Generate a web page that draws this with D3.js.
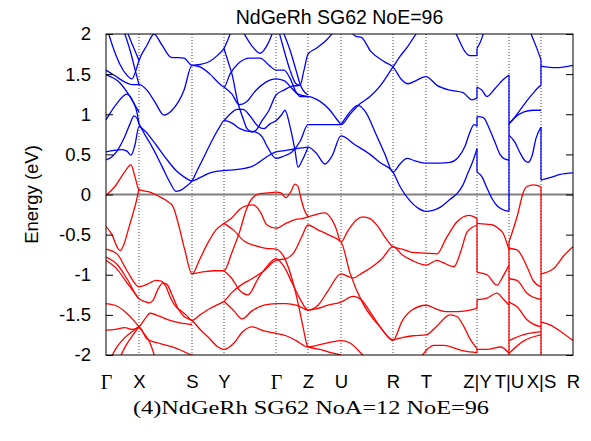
<!DOCTYPE html>
<html><head><meta charset="utf-8">
<script src="https://cdn.jsdelivr.net/npm/d3@7"></script>
<style>body{margin:0;background:#fff}</style>
</head><body><svg id="c" width="591" height="441"></svg>
<script>
// ---- data ----
const kLabels = ["Γ","X","S","Y","Γ","Z","U","R","T","Z|Y","T|U","X|S","R"];
const kTicks  = [0,33,86,118,170,202,235,287,320,371,403,435,467];
const yTicks  = [-2,-1.5,-1,-0.5,0,0.5,1,1.5,2];
const yTickLabels = ["-2","-1.5","-1","-0.5","0","0.5","1","1.5","2"];
const titleText = "NdGeRh SG62 NoE=96";
const captionText = "(4)NdGeRh SG62 NoA=12 NoE=96";
const yAxisLabel = "Energy (eV)";

const conductionBands = [
 [[0,0.43],[6,0.47],[12,0.56],[18,0.70],[24,0.88],[28,0.98],[31,0.95],[33,0.88],[40,0.78],[50,0.62],[60,0.45],[70,0.30],[78,0.22],[86,0.17],[94,0.21],[104,0.27],[112,0.29],[118,0.30],[130,0.31],[140,0.33],[146,0.35],[154,0.41],[162,0.48],[170,0.53],[180,0.55],[190,0.57],[196,0.58],[202,0.59],[210,0.52],[219,0.38],[226,0.48],[235,0.73],[249,0.62],[264,0.50],[274,0.40],[287,0.28],[294,0.10],[304,-0.08],[312,-0.17],[320,-0.21],[334,-0.16],[344,-0.06],[351,0.01],[357,0.12],[362,0.27],[367,0.42],[371,0.57]],
 [[0,0.53],[8,0.55],[16,0.56],[21,0.54],[25,0.49],[29,0.62],[33,0.85],[40,0.72],[48,0.55],[56,0.35],[64,0.15],[70,0.04],[76,0.06],[80,0.10],[86,0.17],[92,0.32],[100,0.52],[108,0.72],[114,0.85],[118,0.92],[126,0.89],[134,0.82],[141,0.79],[149,0.78],[156,0.72],[162,0.58],[170,0.45],[178,0.48],[186,0.53],[194,0.66],[202,0.87],[215,0.87],[225,0.87],[235,0.87],[244,1.0],[254,1.13],[264,1.22],[274,1.35],[287,1.59],[294,1.72],[302,1.85],[310,2.0],[314,2.08]],
 [[0,0.93],[10,1.12],[21,1.25],[27,1.16],[31,1.02],[33,0.88]],
 [[0,1.55],[9,1.48],[19,1.40],[26,1.37],[33,1.37],[41,1.30],[49,1.15],[58,0.99],[66,1.05],[78,1.30],[86,1.61],[94,1.59],[104,1.50],[112,1.40],[118,1.34],[124,1.50],[132,1.63],[144,1.70],[154,1.70],[164,1.60],[170,1.55],[178,1.55],[184,1.45],[190,1.28],[194,1.22],[202,1.22],[214,1.16],[224,1.05],[230,0.95],[235,0.87]],
 [[0,1.49],[14,1.39],[24,1.22],[31,1.07],[33,1.03]],
 [[2,2.03],[8,1.80],[14,1.62],[20,1.50],[26,1.44],[30,1.55],[33,1.67],[41,1.86],[48,2.0],[56,1.86],[65,1.71],[78,1.70],[86,1.61],[94,1.62],[104,1.66],[112,1.74],[118,1.82],[122,1.93],[125,2.03]],
 [[18,2.03],[24,1.80],[29,1.56],[33,1.37]],
 [[21,2.03],[26,1.88],[30,1.76],[33,1.67]],
 [[118,1.82],[122,1.66],[126,1.50],[132,1.14],[137,0.95],[141,0.82],[146,0.78],[150,0.80],[156,0.92],[163,1.05],[170,1.24],[178,1.30],[186,1.35],[194,1.36],[198,1.55],[202,1.75],[210,1.82],[220,1.92],[228,2.03]],
 [[118,0.92],[124,1.0],[131,1.06],[137,1.06],[144,0.98],[152,0.85],[158,0.82],[164,0.88],[170,0.92],[176,1.0],[179,1.05],[184,0.85],[189,0.55],[192,0.34],[196,0.42],[202,0.59]],
 [[118,1.34],[126,1.25],[133,1.12],[140,1.15],[150,1.30],[160,1.40],[170,1.44],[178,1.42],[186,1.32],[192,1.25],[202,1.22]],
 [[137,2.03],[146,1.85],[154,1.76],[162,1.88],[167,2.03]],
 [[173,2.03],[178,1.80],[184,1.55],[190,1.38],[194,1.36]],
 [[177,2.03],[184,1.80],[190,1.55],[194,1.38],[197,1.30],[202,1.24]],
 [[245,2.03],[250,1.97],[255,1.96],[265,1.78],[279,1.65],[287,1.59],[295,1.44],[302,1.38],[310,1.42],[320,1.47],[331,1.36],[344,1.30],[357,1.27],[366,1.18],[371,1.20]],
 [[349,2.03],[354,1.90],[359,1.78],[364,1.73],[371,1.73]],
 [[235,0.87],[244,1.03],[252,1.11],[260,1.02],[269,0.78],[279,0.50],[287,0.28],[294,0.38],[301,0.45],[309,0.42],[320,0.39],[334,0.39],[344,0.40],[352,0.46],[359,0.60],[364,0.78],[368,0.87],[371,0.85]],
 [[371,1.82],[375,1.92],[378,2.03]],
 [[371,1.34],[376,1.30],[381,1.22],[389,1.32],[397,1.43],[403,1.49]],
 [[371,0.97],[377,0.96],[384,0.80],[389,0.65],[394,0.50],[399,0.44],[403,0.43]],
 [[371,0.28],[376,0.22],[381,0.08],[386,-0.05],[391,-0.14],[397,-0.19],[403,-0.21]],
 [[403,0.88],[408,0.95],[414,1.05],[421,1.17],[427,1.26],[432,1.33],[435,1.36]],
 [[403,0.88],[409,0.96],[418,1.03],[427,1.05],[435,1.05]],
 [[403,0.74],[409,0.65],[414,0.52],[419,0.42],[422,0.40],[426,0.48],[430,0.70],[435,0.84]],
 [[424,2.03],[429,1.88],[435,1.68]],
 [[435,1.60],[450,1.58],[467,1.61]],
 [[435,0.18],[444,0.21],[454,0.25],[467,0.27]]
];
const conductionJumps = [[371,1.73,1.82],[371,1.20,1.34],[371,0.85,0.97],[371,0.28,0.57],[403,-0.21,1.49],[435,1.36,1.68],[435,0.18,0.84]];

const valenceBands = [
 [[0,-0.01],[9,0.10],[18,0.27],[25,0.37],[29,0.22],[33,0.06],[44,0.03],[54,-0.03],[61,-0.08],[67,-0.15],[72,-0.35],[79,-0.70],[86,-0.99],[94,-0.80],[102,-0.60],[110,-0.44],[118,-0.36],[126,-0.29],[134,-0.18],[141,-0.14],[147,-0.13],[154,-0.21],[161,-0.38],[170,-0.42],[180,-0.36],[190,-0.31],[196,-0.30],[202,-0.28],[210,-0.25],[219,-0.23],[224,-0.28],[230,-0.42],[235,-0.59],[242,-0.45],[250,-0.32],[257,-0.28],[264,-0.30],[272,-0.40],[280,-0.55],[287,-0.65],[296,-0.68],[306,-0.72],[320,-0.73],[331,-0.74],[340,-0.55],[351,-0.34],[363,-0.26],[371,-0.30]],
 [[0,-0.40],[6,-0.50],[11,-0.65],[14,-0.70],[18,-0.62],[22,-0.45],[26,-0.28],[30,-0.10],[33,0.07]],
 [[86,-0.99],[99,-0.96],[109,-0.95],[118,-0.95],[126,-0.72],[134,-0.45],[140,-0.20],[146,-0.05],[154,0.01],[162,0.02],[170,0.03],[175,0.02],[180,-0.04],[185,0.04],[189,0.13],[192,0.10],[195,-0.05],[198,-0.18],[202,-0.28]],
 [[0,-0.68],[11,-0.74],[21,-0.95],[33,-1.15],[39,-1.13],[44,-1.10],[50,-1.07],[55,-1.08],[60,-1.15],[65,-1.30],[70,-1.40],[75,-1.45],[80,-1.50],[86,-1.57],[94,-1.50],[104,-1.42],[112,-1.37],[118,-1.33],[126,-1.22],[136,-1.12],[146,-1.05],[158,-0.95],[170,-0.82],[180,-0.80],[188,-0.72],[196,-0.52],[202,-0.38],[212,-0.44],[222,-0.50],[235,-0.59],[244,-0.98],[257,-1.36],[274,-1.65],[287,-1.81],[297,-1.78],[307,-1.76],[320,-1.75],[330,-1.65],[344,-1.50],[351,-1.52],[358,-1.65],[364,-1.80],[371,-1.92]],
 [[0,-0.78],[11,-0.87],[21,-1.05],[33,-1.30],[38,-1.33],[43,-1.35],[47,-1.32],[52,-1.18],[57,-1.10],[61,-1.12],[66,-1.25],[72,-1.42],[78,-1.52],[86,-1.57],[94,-1.68],[104,-1.80],[112,-1.90],[118,-1.93],[128,-1.85],[136,-1.72],[146,-1.65],[158,-1.70],[170,-1.73],[180,-1.76],[190,-1.82],[202,-1.90],[214,-1.87],[225,-1.84],[235,-1.82],[244,-1.85],[257,-2.0],[262,-2.05]],
 [[0,-0.82],[11,-0.93],[21,-1.10],[33,-1.30]],
 [[0,-1.36],[9,-1.38],[19,-1.46],[27,-1.56],[33,-1.65],[39,-1.75],[44,-1.85],[49,-2.03]],
 [[0,-1.69],[9,-1.68],[19,-1.66],[26,-1.68],[33,-1.65],[39,-1.55],[44,-1.48],[54,-1.52],[64,-1.57],[74,-1.60],[86,-1.62]],
 [[5,-2.03],[11,-1.90],[19,-1.78],[27,-1.70],[33,-1.65],[41,-1.80],[55,-1.86],[71,-1.92],[86,-2.0],[100,-2.03]],
 [[14,-2.03],[20,-1.88],[27,-1.75],[33,-1.65]],
 [[118,-0.36],[128,-0.45],[138,-0.58],[150,-0.64],[160,-0.67],[170,-0.68],[178,-0.78],[186,-1.05],[192,-1.35],[197,-1.65],[202,-1.90],[214,-1.93],[225,-1.97],[235,-2.0]],
 [[118,-0.95],[126,-1.05],[134,-1.20],[142,-1.25],[152,-1.05],[162,-0.88],[170,-0.80],[178,-0.90],[186,-1.10],[194,-1.30],[202,-1.44],[212,-1.38],[222,-1.20],[235,-0.99],[242,-1.02],[247,-1.04],[256,-0.98],[264,-0.92],[276,-0.80],[287,-0.65],[296,-0.75],[306,-0.82],[320,-0.88],[331,-0.82],[337,-0.85],[348,-0.90],[355,-0.70],[361,-0.47],[371,-0.38]],
 [[118,-1.33],[128,-1.45],[136,-1.55],[146,-1.45],[158,-1.38],[170,-1.36],[180,-1.36],[190,-1.38],[196,-1.41],[202,-1.44],[212,-1.42],[222,-1.38],[235,-1.34],[247,-1.27],[256,-1.32],[266,-1.50],[276,-1.68],[287,-1.82],[296,-1.58],[306,-1.44],[320,-1.38],[331,-1.43],[340,-1.46],[352,-1.46],[371,-1.42]],
 [[315,-2.03],[322,-1.92],[328,-1.88],[338,-1.88],[350,-1.92],[358,-1.95],[371,-1.97]],
 [[371,-0.36],[380,-0.37],[387,-0.38],[392,-0.42],[397,-0.48],[403,-0.69]],
 [[371,-0.97],[381,-1.0],[391,-1.13],[397,-1.02],[403,-0.88]],
 [[371,-1.31],[381,-1.29],[391,-1.23],[397,-1.30],[403,-1.38]],
 [[371,-1.93],[381,-1.93],[395,-1.90],[403,-1.98]],
 [[403,-0.59],[411,-0.28],[418,0.05],[421,0.10],[427,0.12],[432,0.11],[435,0.09]],
 [[403,-0.67],[411,-0.69],[421,-0.90],[427,-1.07],[435,-1.15]],
 [[403,-1.05],[411,-1.07],[421,-1.23],[435,-1.31]],
 [[403,-1.34],[411,-1.40],[421,-1.56],[435,-1.65]],
 [[403,-1.82],[417,-1.75],[435,-1.71]],
 [[403,-1.98],[417,-1.83],[435,-1.75]],
 [[435,-0.99],[448,-0.92],[458,-0.76],[467,-0.65]],
 [[435,-1.59],[445,-1.63],[455,-1.71],[467,-1.82]]
];
const valenceJumps = [[371,-0.97,-0.30],[371,-1.42,-1.31],[371,-1.97,-1.92],[403,-2.0,-0.59],[435,-2.0,0.09]];

// ---- drawing ----
const svg = d3.select("#c");
const L = 106, R = 573, T = 34, B = 355;
const x = d3.scaleLinear().domain([0, 467]).range([L, R]);
const y = d3.scaleLinear().domain([-2, 2]).range([B, T]);
const sans = "Liberation Sans, Arial, Helvetica, sans-serif";

svg.append("rect").attr("width",591).attr("height",441).attr("fill","#fff");

svg.append("defs").append("clipPath").attr("id","clip")
  .append("rect").attr("x",L).attr("y",T).attr("width",R-L).attr("height",B-T);

// high-symmetry dotted lines
svg.append("g").selectAll("line").data(kTicks.slice(1, -1)).join("line")
  .attr("x1", d => x(d)).attr("x2", d => x(d)).attr("y1", T).attr("y2", B)
  .attr("stroke", "#444").attr("stroke-width", 1).attr("stroke-dasharray", "1,2");

// zero line
svg.append("line").attr("x1", L).attr("x2", R).attr("y1", y(0)).attr("y2", y(0))
  .attr("stroke", "#808080").attr("stroke-width", 2);

const line = d3.line().x(d => x(d[0])).y(d => y(d[1])).curve(d3.curveMonotoneX);
const gb = svg.append("g").attr("clip-path", "url(#clip)");

function drawSet(bands, jumps, color) {
  gb.append("g").selectAll("path").data(bands).join("path")
    .attr("d", line).attr("fill", "none").attr("stroke", color)
    .attr("stroke-width", 1.3).attr("stroke-linejoin", "round");
  gb.append("g").selectAll("line").data(jumps).join("line")
    .attr("x1", d => x(d[0])).attr("x2", d => x(d[0]))
    .attr("y1", d => y(d[1])).attr("y2", d => y(d[2]))
    .attr("stroke", color).attr("stroke-width", 1.3);
}
drawSet(valenceBands, valenceJumps, "#ff0000");
drawSet(conductionBands, conductionJumps, "#0000ff");

// frame
svg.append("rect").attr("x", L).attr("y", T).attr("width", R-L).attr("height", B-T)
  .attr("fill", "none").attr("stroke", "#000").attr("stroke-width", 1);

// y axis ticks (left + mirrored right)
const yAxisL = d3.axisLeft(y).tickValues(yTicks).tickSize(-7).tickFormat((d,i) => yTickLabels[i]).tickPadding(15);
const gyl = svg.append("g").attr("transform", `translate(${L},0)`).call(yAxisL);
gyl.select(".domain").remove();
gyl.selectAll("text").attr("font-family", sans).attr("font-size", 18.5).attr("fill","#000");
gyl.selectAll("line").attr("stroke","#000");
const yAxisR = d3.axisRight(y).tickValues(yTicks).tickSize(-7).tickFormat("");
const gyr = svg.append("g").attr("transform", `translate(${R},0)`).call(yAxisR);
gyr.select(".domain").remove();
gyr.selectAll("line").attr("stroke","#000");

// x labels
const xAxis = d3.axisBottom(x).tickValues(kTicks).tickSize(0).tickFormat((d,i) => kLabels[i]).tickPadding(20);
const gx = svg.append("g").attr("transform", `translate(0,${B})`).call(xAxis);
gx.select(".domain").remove();
gx.selectAll("text").attr("fill","#000")
  .attr("font-size", (d,i) => kLabels[i] === "Γ" ? 20 : 18.5)
  .attr("font-family", (d,i) => kLabels[i] === "Γ" ? "Liberation Serif, serif" : sans);

// title
svg.append("text").attr("x", (L+R)/2).attr("y", 24).attr("text-anchor","middle")
  .attr("font-family", sans).attr("font-size",19.5).text(titleText);

// y label
svg.append("text").attr("transform", `translate(38,${(T+B)/2}) rotate(-90)`).attr("text-anchor","middle")
  .attr("font-family", sans).attr("font-size",18.5).text(yAxisLabel);

// caption
svg.append("text").attr("x", 311).attr("y", 414).attr("text-anchor","middle")
  .attr("font-family","Liberation Serif, 'DejaVu Serif', serif").attr("font-size",19.5)
  .attr("textLength", 356).attr("lengthAdjust","spacingAndGlyphs").text(captionText);
</script></body></html>
